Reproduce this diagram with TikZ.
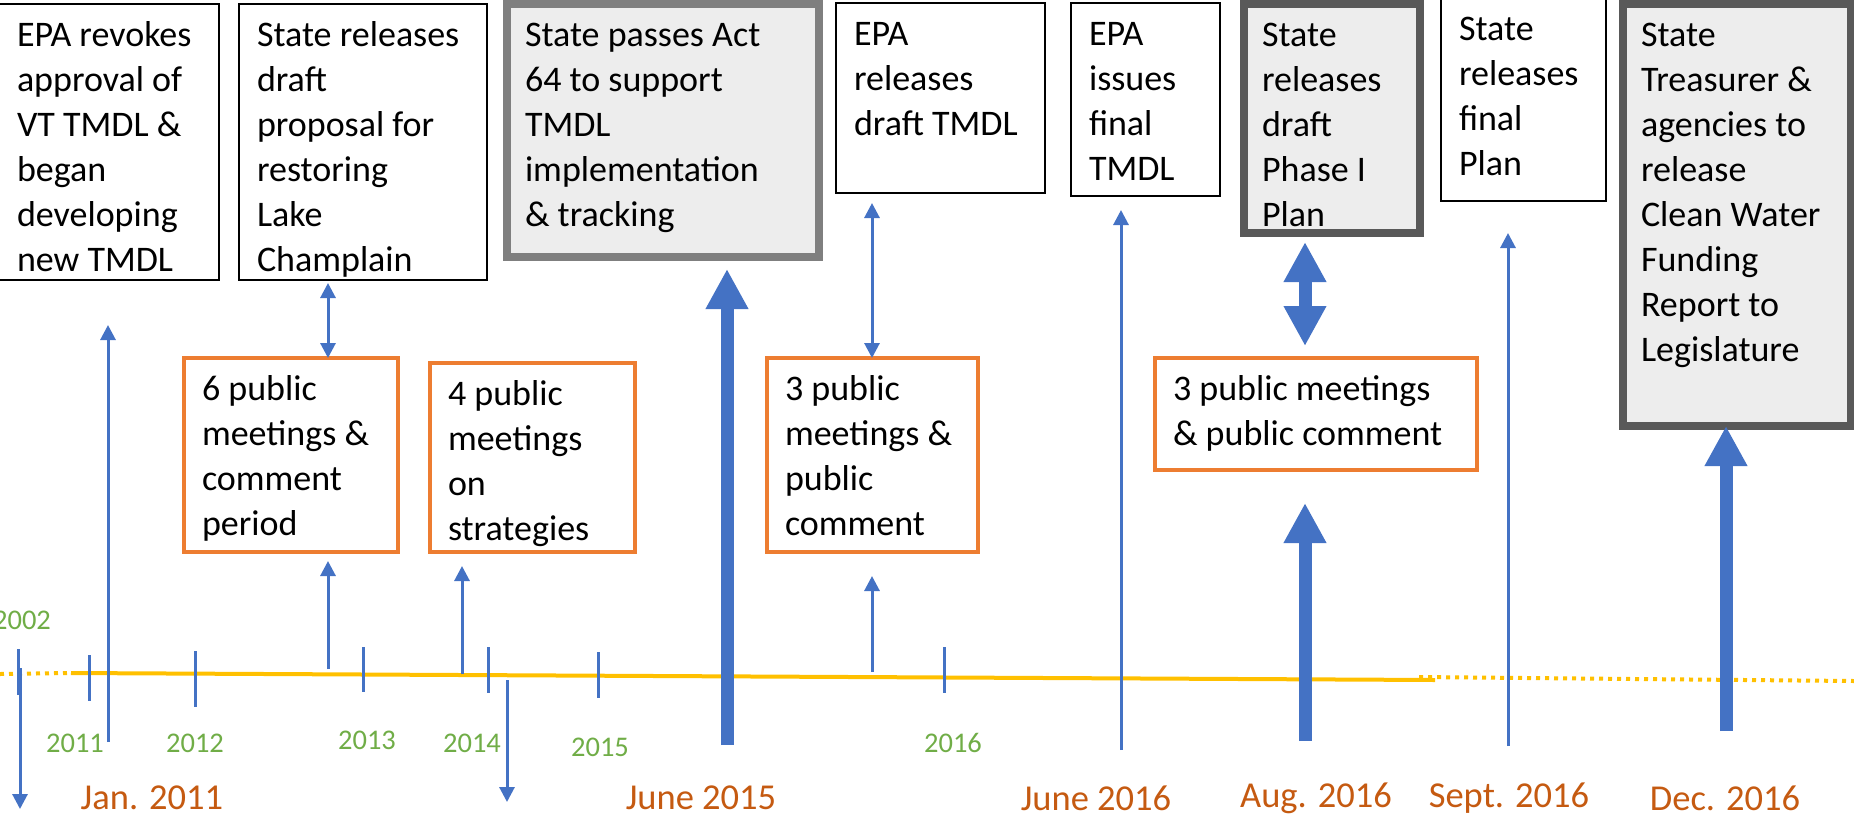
\documentclass[tikz,border=0pt]{standalone}
\usepackage{fontspec}
\setmainfont{Carlito}
\usetikzlibrary{arrows.meta,positioning}

\definecolor{evblue}{HTML}{4472C4}
\definecolor{mtorange}{HTML}{ED7D31}
\definecolor{datebrown}{HTML}{C55A11}
\definecolor{yrgreen}{HTML}{70AD47}
\definecolor{lineyellow}{HTML}{FFC000}
\definecolor{keyfill}{HTML}{EDEDED}
\definecolor{keymid}{HTML}{7F7F7F}
\definecolor{keydark}{HTML}{595959}

\newlength{\pxu}\setlength{\pxu}{0.4pt}
\newcommand{\evfont}{\fontsize{14.4pt}{18pt}\selectfont}
% box text: width, height (px), lines
\newcommand{\evtext}[3]{\parbox[c][#2\pxu][t]{#1\pxu}{\raggedright\rule{0pt}{16.8pt}#3}}

\tikzset{
  evt/.style={draw, line width=0.8pt, anchor=north west, inner xsep=7.2pt,
    inner ysep=0pt, outer sep=0pt, font=\evfont},
  keyevt/.style={evt, draw=#1, fill=keyfill, line width=3.2pt},
  mtg/.style={evt, draw=mtorange, line width=1.6pt},
  tline/.style={draw=lineyellow, line width=1.6pt},
  tdot/.style={tline, dash pattern=on 1.6pt off 2pt},
  yrtick/.style={draw=evblue, line width=1.2pt},
  yrlab/.style={text=yrgreen, font=\fontsize{11.4pt}{13pt}\selectfont, inner sep=0pt},
  datelab/.style={text=datebrown, font=\fontsize{14.6pt}{17pt}\selectfont, inner sep=0pt},
  thinarr/.style={color=evblue, line width=1.2pt, >={Triangle[width=6pt,length=6pt]}},
  thickarr/.style={color=evblue, line width=5.2pt, >={Triangle[width=16pt,length=16pt]}}
}

\begin{document}
\begin{tikzpicture}[x=0.4pt, y=-0.4pt]
\useasboundingbox (0,0) rectangle (1854,821);

% top row
\node[evt] (ev_1) at (-1,4) {\evtext{184}{276}{EPA revokes\\ approval of\\ VT TMDL \&\\ began\\ developing\\ new TMDL}};
\node[evt] (ev_2) at (239,4) {\evtext{212}{276}{State releases\\ draft\\ proposal for\\ restoring\\ Lake\\ Champlain}};
\node[keyevt=keymid] (ev_3) at (507,4) {\evtext{276}{253}{State passes Act\\ 64 to support\\ TMDL\\ implementation\\ \& tracking}};
\node[evt] (ev_4) at (836,3) {\evtext{173}{190}{EPA\\ releases\\ draft TMDL}};
\node[evt] (ev_5) at (1071,3) {\evtext{113}{193}{EPA\\ issues\\ final\\ TMDL}};
\node[keyevt=keydark] (ev_6) at (1244,4) {\evtext{140}{229}{State\\ releases\\ draft\\ Phase I\\ Plan}};
\node[evt] (ev_7) at (1441,-2) {\evtext{129}{203}{State\\ releases\\ final\\ Plan}};
\node[keyevt=keydark] (ev_8) at (1623,4) {\evtext{192}{422}{State\\ Treasurer \&\\ agencies to\\ release\\ Clean Water\\ Funding\\ Report to\\ Legislature}};

% public meetings
\node[mtg] (mt_1) at (184,358) {\evtext{178}{194}{6 public\\ meetings \&\\ comment\\ period}};
\node[mtg] (mt_2) at (430,363) {\evtext{169}{189}{4 public\\ meetings\\ on\\ strategies}};
\node[mtg] (mt_3) at (767,358) {\evtext{175}{194}{3 public\\ meetings \&\\ public\\ comment}};
\node[mtg] (mt_4) at (1155,358) {\evtext{286}{112}{3 public meetings\\ \& public comment}};

% time line
\coordinate (tl_l) at (0,674);
\coordinate (tl_a) at (71,673);
\coordinate (tl_b) at (1435,680);
\coordinate (tl_c) at (1419,677);
\coordinate (tl_r) at (1854,681);
\draw[tdot] (tl_l) -- (tl_a);
\draw[tline] (tl_a) -- (tl_b);
\draw[tdot] (tl_c) -- (tl_r);

\foreach \x/\ya/\yb in {18/649/695, 89/655/701, 195/651/707, 363/647/692,
    488/647/693, 598/652/698, 944/647/693}
  \draw[yrtick] (\x,\ya) -- (\x,\yb);

\foreach \x/\y/\yr in {22/620/2002, 75/743/2011, 195/743/2012, 367/740/2013,
    472/743/2014, 600/747/2015, 953/743/2016}
  \node[yrlab] (y_\yr) at (\x,\y) {\yr};

\foreach \x/\n/\lab in {152/jan11/Jan. 2011, 701/jun15/June 2015, 1096/jun16/June 2016,
    1316/aug16/Aug. 2016, 1509/sep16/Sept. 2016, 1725/dec16/Dec. 2016}
  \node[datelab] (d_\n) at (\x,798) {\lab};

% arrow feet
\coordinate (t_old) at (20,668);   \coordinate (t_old2) at (20,809);
\coordinate (t_jan) at (108,742);
\coordinate (m_1) at (328,669);
\coordinate (m_2) at (462,674);
\coordinate (t_mid) at (507,680);  \coordinate (t_mid2) at (507,802);
\coordinate (t_jun15) at (727,745);
\coordinate (m_3) at (872,672);
\coordinate (t_jun16) at (1121,750);
\coordinate (m_4) at (1305,741);
\coordinate (t_sep16) at (1508,746);
\coordinate (t_dec16) at (1726,731);

\path[thinarr,->]
  (t_old) edge (t_old2)
  (t_jan) edge [shorten >=18pt] (t_jan |- ev_1.south)
  (m_1) edge [shorten >=3.6pt] (m_1 |- mt_1.south)
  (m_2) edge [shorten >=5.6pt] (m_2 |- mt_2.south)
  (t_mid) edge (t_mid2)
  (m_3) edge [shorten >=9.6pt] (m_3 |- mt_3.south)
  (t_jun16) edge [shorten >=5.6pt] (t_jun16 |- ev_5.south)
  (t_sep16) edge [shorten >=12.8pt] (t_sep16 |- ev_7.south);
\path[thinarr,<->]
  (m_1 |- ev_2.south) edge [shorten <=1.2pt] (m_1 |- mt_1.north)
  (m_3 |- ev_4.south) edge [shorten <=4pt] (m_3 |- mt_3.north);
\path[thickarr,->]
  (t_jun15) edge [shorten >=4.8pt] (t_jun15 |- ev_3.south)
  (m_4) edge [shorten >=13.2pt] (m_4 |- mt_4.south)
  (t_dec16) edge (t_dec16 |- ev_8.south);
\path[thickarr,<->]
  (m_4 |- ev_6.south) edge [shorten <=3.6pt, shorten >=4.8pt] (m_4 |- mt_4.north);
\end{tikzpicture}
\end{document}
